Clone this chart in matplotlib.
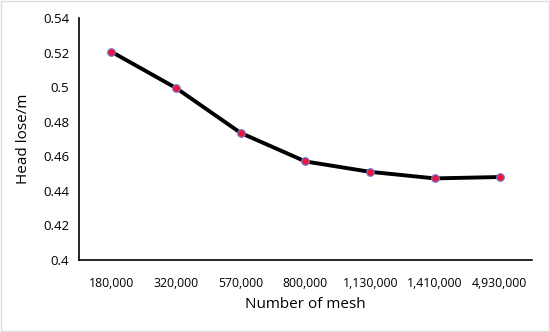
import matplotlib.pyplot as plt
import numpy as np

plt.rcParams['font.family'] = ['Open Sans', 'DejaVu Sans']

mesh = ['180,000', '320,000', '570,000', '800,000', '1,130,000', '1,410,000', '4,930,000']
head_lose = [0.5205, 0.4995, 0.4735, 0.457, 0.451, 0.4472, 0.448]
y_ticks = [0.4, 0.42, 0.44, 0.46, 0.48, 0.5, 0.52, 0.54]
y_labels = ['0.4', '0.42', '0.44', '0.46', '0.48', '0.5', '0.52', '0.54']

fig = plt.figure(figsize=(5.5, 3.32), dpi=100)
ax = fig.add_axes([0.1436, 0.2169, 0.8234, 0.7289])

x = np.arange(len(mesh))
ax.plot(x, head_lose, color='black', lw=2.8, zorder=2)
ax.plot(x, head_lose, 'o', ms=5.5, mfc='#f0143c', mec='#6a7fd0', mew=0.8, zorder=3)

ax.set_xlim(-0.5, len(mesh) - 0.5)
ax.set_ylim(0.4, 0.54)
ax.set_xticks(x)
ax.set_xticklabels(mesh, fontsize=8.8)
ax.set_yticks(y_ticks)
ax.set_yticklabels(y_labels, fontsize=9.5)
ax.tick_params(length=0, pad=7)
ax.tick_params(axis='x', pad=12)

for s in ['top', 'right']:
    ax.spines[s].set_visible(False)
ax.spines['left'].set_linewidth(1.2)
ax.spines['bottom'].set_linewidth(1.2)

ax.set_xlabel('Number of mesh', fontsize=11, labelpad=5)
ax.set_ylabel('Head lose/m', fontsize=11, labelpad=9)

fig.patches.append(plt.Rectangle((0.002, 0.002), 0.996, 0.996, transform=fig.transFigure,
                                 fill=False, ec='#dddddd', lw=1))

fig.savefig('out.png', dpi=100)
